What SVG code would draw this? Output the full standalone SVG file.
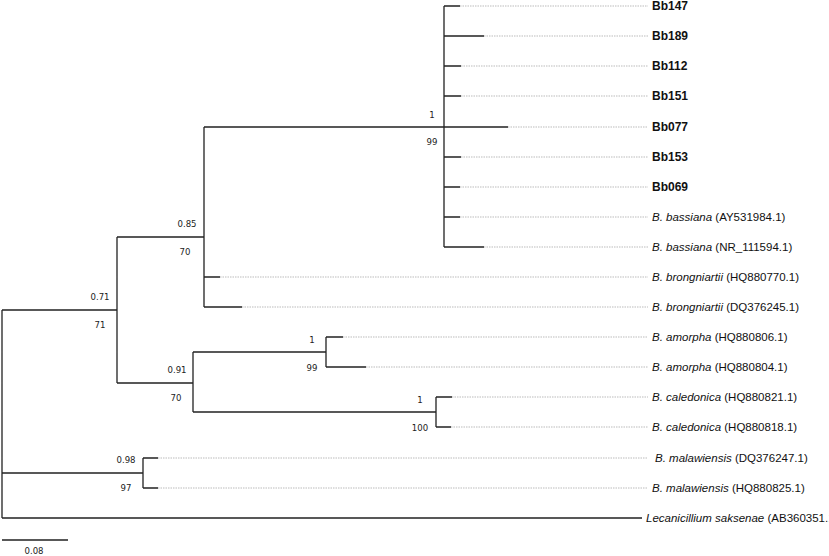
<svg xmlns="http://www.w3.org/2000/svg" width="829" height="556" viewBox="0 0 829 556">
<style>
.b{stroke:#222;stroke-width:1.3;fill:none}
.d{stroke:#aaa;stroke-width:0.8;stroke-dasharray:1.5,1;fill:none}
.s{font-family:"DejaVu Sans Condensed","Liberation Sans",sans-serif;font-size:9.5px;fill:#222;text-anchor:middle}
.l{font-family:"Liberation Sans",Arial,sans-serif;font-size:11.5px;fill:#111}
.bo{font-weight:bold;font-size:12px}
</style>
<rect width="829" height="556" fill="#fff"/>
<g id="connectors">
<path class="b" d="M2,310V518M2,310H117M117,237V383M117,237H204M204,127V307M204,127H444M444,6V247
M444,6H460M444,36H484M444,66H461M444,96H461M444,127H508M444,157H461M444,187H460M444,217H460M444,247H484
M204,277H220M204,307H242
M117,383H193M193,352V412M193,352H326M326,337V367M326,337H343M326,367H366
M193,412H436M436,397V427M436,397H452M436,427H451
M2,473H143M143,458V488M143,458H158M143,488H158
M2,518H642 M2,540H68"/>
<path class="d" d="M460,6H648M484,36H648M461,66H648M461,96H648M508,127H648M461,157H648M460,187H648M460,217H648M484,247H648M220,277H648M242,307H648M343,337H648M366,367H648M452,397H648M451,427H648M158,458H648M158,488H648"/>
</g>
<g id="support">
<text class="s" x="432" y="118">1</text><text class="s" x="432" y="145">99</text>
<text class="s" x="187" y="227">0.85</text><text class="s" x="185" y="255">70</text>
<text class="s" x="100" y="300">0.71</text><text class="s" x="100" y="328">71</text>
<text class="s" x="177" y="373">0.91</text><text class="s" x="176" y="401">70</text>
<text class="s" x="312" y="343">1</text><text class="s" x="312" y="371">99</text>
<text class="s" x="420" y="403">1</text><text class="s" x="420" y="431">100</text>
<text class="s" x="126" y="463">0.98</text><text class="s" x="126" y="491">97</text>
<text class="s" x="34" y="554">0.08</text>
</g>
<g id="leaves">
<text class="l bo" x="652" y="10">Bb147</text>
<text class="l bo" x="652" y="40">Bb189</text>
<text class="l bo" x="652" y="70">Bb112</text>
<text class="l bo" x="652" y="100">Bb151</text>
<text class="l bo" x="652" y="131">Bb077</text>
<text class="l bo" x="652" y="161">Bb153</text>
<text class="l bo" x="652" y="191">Bb069</text>
<text class="l" x="652" y="221"><tspan font-style="italic">B. bassiana</tspan> (AY531984.1)</text>
<text class="l" x="652" y="251"><tspan font-style="italic">B. bassiana</tspan> (NR_111594.1)</text>
<text class="l" x="652" y="281"><tspan font-style="italic">B. brongniartii</tspan> (HQ880770.1)</text>
<text class="l" x="652" y="311"><tspan font-style="italic">B. brongniartii</tspan> (DQ376245.1)</text>
<text class="l" x="652" y="341"><tspan font-style="italic">B. amorpha</tspan> (HQ880806.1)</text>
<text class="l" x="652" y="371"><tspan font-style="italic">B. amorpha</tspan> (HQ880804.1)</text>
<text class="l" x="652" y="401"><tspan font-style="italic">B. caledonica</tspan> (HQ880821.1)</text>
<text class="l" x="652" y="431"><tspan font-style="italic">B. caledonica</tspan> (HQ880818.1)</text>
<text class="l" x="655" y="462"><tspan font-style="italic">B. malawiensis</tspan> (DQ376247.1)</text>
<text class="l" x="652" y="492"><tspan font-style="italic">B. malawiensis</tspan> (HQ880825.1)</text>
<text class="l" x="646" y="522" font-size="10.5px"><tspan font-style="italic">Lecanicillium saksenae</tspan> (AB360351.1)</text>
</g>
</svg>
